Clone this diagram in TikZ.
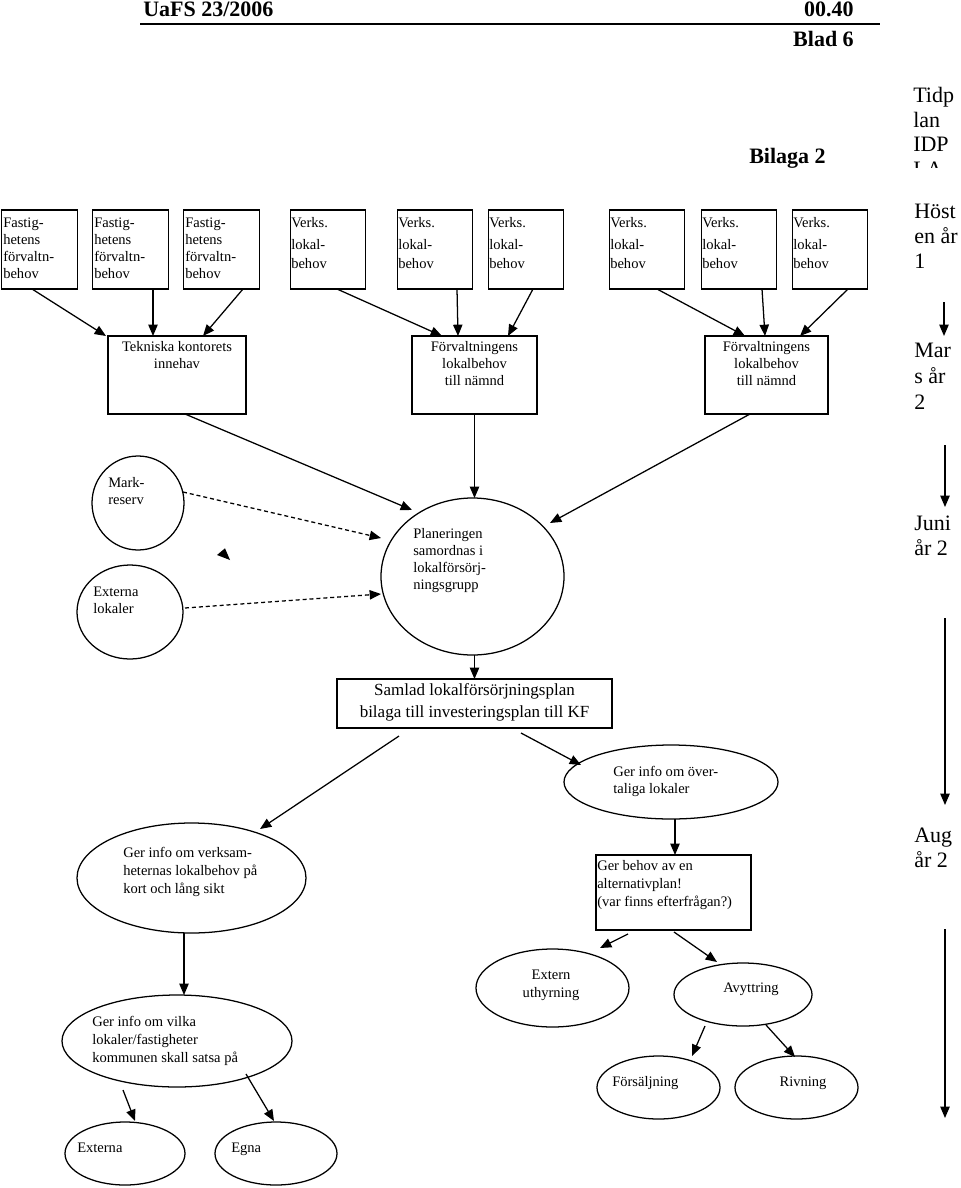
\documentclass[tikz,border=0pt]{standalone}
\usepackage{fontspec}
\setmainfont{Liberation Serif}
\usetikzlibrary{arrows.meta,shapes.geometric,calc}
\newcommand\fdia{\fontsize{10.9}{12.75}\selectfont}
\newcommand\fsam{\fontsize{12.75}{16.5}\selectfont}
\newcommand\ftime{\fontsize{16.5}{18.75}\selectfont}
\newcommand\fhead{\fontsize{16.5}{19}\selectfont\bfseries}
\begin{document}
\begin{tikzpicture}[x=0.75pt,y=-0.75pt,
  stepbox/.style={draw, rectangle, line width=0.95pt, inner sep=0pt},
  topbox/.style={stepbox, minimum width=56.5pt, minimum height=59.25pt},
  midbox/.style={stepbox, minimum height=58.5pt},
  oval/.style={draw, ellipse, line width=0.95pt, inner sep=0pt},
  txt/.style={inner sep=0pt, anchor=base west, align=left, font=\fdia},
  ctxt/.style={inner sep=0pt, anchor=base, align=center, font=\fdia},
  ttxt/.style={inner sep=0pt, anchor=base west, align=left, font=\ftime},
  htxt/.style={inner sep=0pt, font=\fhead},
  conn/.style={line width=0.95pt, -{Triangle[length=8.5pt,width=7pt]}},
  dconn/.style={conn, dash pattern=on 3pt off 2.2pt},
]
\fill[white] (0,0) rectangle (960,1188);
\useasboundingbox (0,0) rectangle (960,1188);

% header (multi-line text nodes are anchored at the baseline of their last line)
\node[htxt, anchor=base west] (hdl) at (143,17) {UaFS 23/2006};
\node[htxt, anchor=base east] (hdr) at (854,17) {00.40};
\draw[line width=1.1pt] (140,24) -- (880,24);
\node[htxt, anchor=base east] (blad) at (854,47) {Blad 6};
\node[htxt, anchor=base west] (bil) at (749,163) {Bilaga 2};
\begin{scope}
  \clip (900,70) rectangle (960,167);
  \node[ttxt, font=\fontsize{16.5}{18.4}\selectfont] (tid) at (913,176.5) {Tidp\\lan\\IDP\\LA};
\end{scope}

% top row boxes
\node[topbox] (b1) at (39.5,249.5) {};
\node[topbox] (b2) at (130.5,249.5) {};
\node[topbox] (b3) at (221.5,249.5) {};
\node[topbox] (v1) at (328,249.5) {};
\node[topbox] (v2) at (435,249.5) {};
\node[topbox] (v3) at (526,249.5) {};
\node[topbox] (v4) at (647,249.5) {};
\node[topbox] (v5) at (739,249.5) {};
\node[topbox] (v6) at (830,249.5) {};
\node[txt] (b1t) at (3,278) {Fastig-\\hetens\\förvaltn-\\behov};
\node[txt] (b2t) at (94,278) {Fastig-\\hetens\\förvaltn-\\behov};
\node[txt] (b3t) at (185,278) {Fastig-\\hetens\\förvaltn-\\behov};
\node[txt] (v1t) at (291,268) {Verks.\\[3.75pt]lokal-\\[1.5pt]behov};
\node[txt] (v2t) at (398,268) {Verks.\\[3.75pt]lokal-\\[1.5pt]behov};
\node[txt] (v3t) at (489,268) {Verks.\\[3.75pt]lokal-\\[1.5pt]behov};
\node[txt] (v4t) at (610,268) {Verks.\\[3.75pt]lokal-\\[1.5pt]behov};
\node[txt] (v5t) at (702,268) {Verks.\\[3.75pt]lokal-\\[1.5pt]behov};
\node[txt] (v6t) at (793,268) {Verks.\\[3.75pt]lokal-\\[1.5pt]behov};

% second row boxes
\node[midbox, minimum width=103.5pt] (tk) at (177,375) {};
\node[midbox, minimum width=93.75pt] (f1) at (474.5,375) {};
\node[midbox, minimum width=92.25pt] (f2) at (766.5,375) {};
\node[ctxt] (tkt) at (177,368) {Tekniska kontorets\\innehav};
\node[ctxt] (f1t) at (474.5,385) {Förvaltningens\\lokalbehov\\till nämnd};
\node[ctxt] (f2t) at (766.5,385) {Förvaltningens\\lokalbehov\\till nämnd};

% middle
\node[oval, minimum width=69pt, minimum height=70.5pt] (mr) at (138,503) {};
\node[oval, minimum width=79.5pt, minimum height=70.5pt] (el) at (130,612) {};
\node[oval, minimum width=137.25pt, minimum height=117.75pt] (pl) at (472.5,576.5) {};
\node[txt] (mrt) at (108,504) {Mark-\\reserv};
\node[txt] (elt) at (93,613) {Externa\\lokaler};
\node[txt] (plt) at (413,589) {Planeringen\\samordnas i\\lokalförsörj-\\ningsgrupp};
\fill (217,555) -- (225,548.3) -- (230,560) -- cycle;

% Samlad
\node[stepbox, minimum width=206.25pt, minimum height=36.75pt] (sp) at (474.5,703.5) {};
\node[ctxt, font=\fsam] (spt) at (474.5,717) {Samlad lokalförsörjningsplan\\bilaga till investeringsplan till KF};

\node[oval, minimum width=160.5pt, minimum height=55.5pt] (ov) at (671,782) {};
\node[txt] (ovt) at (613,793) {Ger info om över-\\taliga lokaler};
\node[stepbox, minimum width=116.25pt, minimum height=56.25pt] (ab) at (673.5,892.5) {};
\node[txt] (abt) at (597,906) {Ger behov av en\\[0.75pt]alternativplan!\\[0.75pt](var finns efterfrågan?)};

\node[oval, minimum width=171.75pt, minimum height=82.5pt] (li) at (191.5,878) {};
\node[txt] (lit) at (123,893) {Ger info om verksam-\\[0.75pt]heternas lokalbehov på\\[0.75pt]kort och lång sikt};
\node[oval, minimum width=172.5pt, minimum height=69pt] (vk) at (177,1041) {};
\node[txt] (vkt) at (92,1062) {Ger info om vilka\\[0.4pt]lokaler/fastigheter\\[0.4pt]kommunen skall satsa på};
\node[oval, minimum width=90pt, minimum height=47.25pt] (ex) at (125,1153.5) {};
\node[oval, minimum width=91.5pt, minimum height=47.25pt] (eg) at (276,1153.5) {};
\node[txt] (ext) at (77,1152) {Externa};
\node[txt] (egt) at (231,1152) {Egna};

\node[oval, minimum width=114.75pt, minimum height=58.5pt] (eu) at (552.5,988) {};
\node[ctxt] (eut) at (551,997) {Extern\\[0.75pt]uthyrning};
\node[oval, minimum width=103.5pt, minimum height=47.25pt] (av) at (743,994.5) {};
\node[ctxt] (avt) at (751,992) {Avyttring};
\node[oval, minimum width=92.25pt, minimum height=47.25pt] (fs) at (658.5,1087.5) {};
\node[txt] (fst) at (612,1086) {Försäljning};
\node[oval, minimum width=92.25pt, minimum height=47.25pt] (rv) at (796.5,1087.5) {};
\node[ctxt] (rvt) at (803,1086) {Rivning};

% timeline
\node[ttxt] (th) at (914,268) {Höst\\en år\\1};
\node[ttxt] (tm) at (914,409) {Mar\\[0.75pt]s år\\[0.75pt]2};
\node[ttxt] (tj) at (914,555) {Juni\\år 2};
\node[ttxt] (ta) at (914,867) {Aug\\år 2};
\coordinate (tend) at (945,1118);
\draw[conn] ($(th.base west)+(30,34)$) -- ($(tm.base west)+(30,-73)$);
\draw[conn] ($(tm.base west)+(31,36)$) -- ($(tj.base west)+(31,-48)$);
\draw[conn] ($(tj.base west)+(31,63)$) -- ($(ta.base west)+(31,-62)$);
\draw[conn] ($(ta.base west)+(31,62)$) -- (tend);

% connectors top -> second row
\draw[conn] ($(b1)+(-7.5,39.5)$) -- ($(tk)+(-71,-39)$);
\draw[conn] ($(b2)+(22.5,39.5)$) -- ($(tk)+(-24,-39)$);
\draw[conn] ($(b3)+(21.5,39.5)$) -- ($(tk)+(26,-39)$);
\draw[conn] ($(v1)+(9,39.5)$) -- ($(f1)+(-32.5,-39)$);
\draw[conn] ($(v2)+(22,39.5)$) -- ($(f1)+(-16.5,-39)$);
\draw[conn] ($(v3)+(7,39.5)$) -- ($(f1)+(33.5,-39)$);
\draw[conn] ($(v4)+(10,39.5)$) -- ($(f2)+(-21.5,-39)$);
\draw[conn] ($(v5)+(23,39.5)$) -- ($(f2)+(-1.5,-39)$);
\draw[conn] ($(v6)+(18,39.5)$) -- ($(f2)+(33.5,-39)$);

% second row -> Planeringen
\draw[conn] ($(tk)+(8,39)$) -- ($(pl)+(-60.5,-66.5)$);
\draw[conn] ($(f1)+(0,39)$) -- ($(pl)+(2,-78.5)$);
\draw[conn] ($(f2)+(-16.5,39)$) -- ($(pl)+(77.5,-53.5)$);
\draw[dconn] ($(mr)+(45,-11)$) -- ($(pl)+(-91.5,-38.5)$);
\draw[dconn] ($(el)+(55,-4)$) -- ($(pl)+(-91.5,17.5)$);

% lower part
\draw[conn] ($(pl)+(2,78.5)$) -- ($(sp)+(0,-24.5)$);
\draw[conn] ($(sp)+(-75.5,32.5)$) -- ($(li)+(68.5,-49)$);
\draw[conn] ($(sp)+(46.5,29.5)$) -- ($(ov)+(-90,-17)$);
\draw[conn] ($(ov)+(4,37)$) -- ($(ab)+(1.5,-37.5)$);
\draw[conn] ($(li)+(-7.5,55)$) -- ($(vk)+(7,-46)$);
\draw[conn] ($(vk)+(-54,49)$) -- ($(ex)+(10,-32.5)$);
\draw[conn] ($(vk)+(69,33)$) -- ($(eg)+(-2,-32.5)$);
\draw[conn] ($(ab)+(-45.5,41.5)$) -- ($(eu)+(47.5,-40)$);
\draw[conn] ($(ab)+(0.5,39.5)$) -- ($(av)+(-26,-32.5)$);
\draw[conn] ($(av)+(-38,31.5)$) -- ($(fs)+(33.5,-31.5)$);
\draw[conn] ($(av)+(23,30.5)$) -- ($(rv)+(-1.5,-30.5)$);
\end{tikzpicture}
\end{document}
